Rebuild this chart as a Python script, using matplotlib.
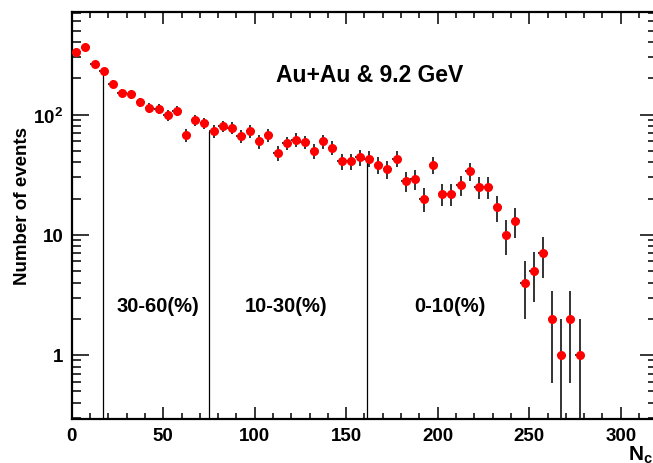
import numpy as np
import matplotlib
matplotlib.use('Agg')
import matplotlib.pyplot as plt
from matplotlib.ticker import MultipleLocator, LogLocator, NullFormatter

plt.rcParams['font.family'] = ['Liberation Sans', 'DejaVu Sans']
plt.rcParams['font.weight'] = 'bold'
plt.rcParams['mathtext.fontset'] = 'custom'
plt.rcParams['mathtext.bf'] = 'Liberation Sans:bold'
plt.rcParams['mathtext.rm'] = 'Liberation Sans:bold'
plt.rcParams['mathtext.default'] = 'bf'

# Multiplicity histogram, 5-unit bins starting at 0
bin_width = 5
counts = [331, 369, 265, 230, 180, 152, 148, 127, 114, 112,
          99, 107, 68, 90, 85, 73, 80, 78, 66, 73,
          60, 68, 48, 58, 62, 59, 50, 60, 53, 41,
          41, 44, 43, 38, 35, 43, 28, 29, 20, 38,
          22, 22, 26, 34, 25, 25, 17, 10, 13, 4,
          5, 7, 2, 1, 2, 1]

# Centrality cut positions and class labels
cuts = [17, 75, 161.5]
classes = ['30-60(%)', '10-30(%)', '0-10(%)']
class_x = [157.5, 286, 450]  # label centres, px

counts = np.array(counts, dtype=float)
centers = bin_width * (np.arange(len(counts)) + 0.5)
errors = np.sqrt(counts)

W, H = 653, 464
fig = plt.figure(figsize=(W / 100, H / 100), dpi=100)
x0, x1, y_top, y_bot = 71.7, 657.3, 12.5, 420
ax = fig.add_axes([x0 / W, (H - y_bot) / H, (x1 - x0) / W, (y_bot - y_top) / H])

ax.set_yscale('log')
ax.set_xlim(0, 320)
ax.set_ylim(0.293, 722)

# cut lines up to the histogram level
cut_bins = [int(c // bin_width) for c in cuts]
ax.vlines(cuts, 0.293, counts[cut_bins], colors='black', linewidth=0.9, zorder=1)

ax.errorbar(centers, counts, yerr=errors, xerr=bin_width / 2, fmt='o',
            color='red', markersize=6.5, markeredgewidth=0,
            ecolor='#111111', elinewidth=1.2, capsize=0, zorder=3)

ax.xaxis.set_major_locator(MultipleLocator(50))
ax.xaxis.set_minor_locator(MultipleLocator(10))
ax.yaxis.set_major_locator(LogLocator(base=10))
ax.yaxis.set_minor_locator(LogLocator(base=10, subs=np.arange(2, 10)))
ax.yaxis.set_minor_formatter(NullFormatter())
ax.set_yticks([1, 10, 100])
ax.set_yticklabels(['1', '10', r'$10^{2}$'])

ax.tick_params(which='both', direction='in', top=True, right=True,
               labelsize=13.5, width=1.1)
ax.tick_params(axis='x', which='major', length=8.6, pad=6)
ax.tick_params(axis='x', which='minor', length=4.3)
ax.tick_params(axis='y', which='major', length=12.5, pad=6)
ax.tick_params(axis='y', which='minor', length=6.5)
for lbl in ax.get_xticklabels() + ax.get_yticklabels():
    lbl.set_fontweight('bold')
for sp in ax.spines.values():
    sp.set_linewidth(1.6)

fig.text(23 / W, 1 - 206 / H, 'Number of events', rotation=90,
         ha='center', va='center', fontsize=13.5, fontweight='bold')
fig.text(628 / W, 1 - 455 / H, r'$N_{ch}$', ha='left', va='center',
         fontsize=15)

fig.text(370 / W, 1 - 76 / H, 'Au+Au & 9.2 GeV', ha='center', va='center',
         fontsize=16.5, fontweight='bold')
for label, px in zip(classes, class_x):
    fig.text(px / W, 1 - 307 / H, label, ha='center', va='center',
             fontsize=14.5, fontweight='bold')

fig.savefig('out.png', dpi=100)
